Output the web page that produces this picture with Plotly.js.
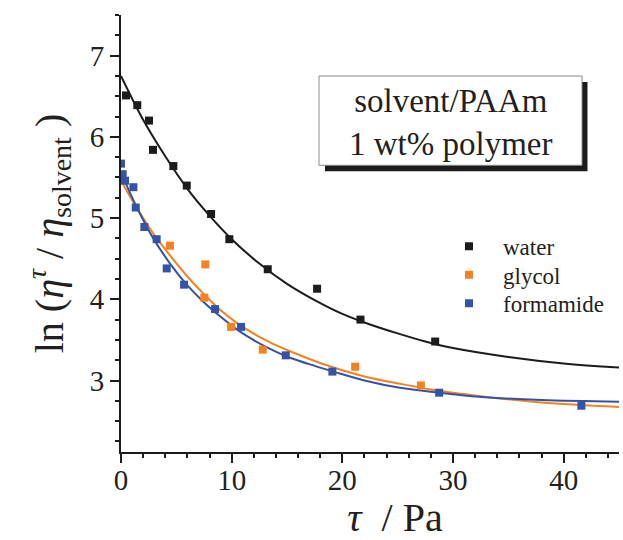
<!DOCTYPE html>
<html>
<head>
<meta charset="utf-8">
<script src="https://cdn.plot.ly/plotly-3.0.1.min.js"></script>
<style>
html,body{margin:0;padding:0;background:#fff;}
#chart{width:623px;height:540px;}
</style>
</head>
<body>
<div id="chart"></div>
<script>
// measured points
var waterX = [0.45, 1.47, 2.53, 2.89, 4.73, 5.94, 8.14, 9.79, 13.26, 17.72, 21.64, 28.39];
var waterY = [6.51, 6.39, 6.20, 5.84, 5.64, 5.40, 5.05, 4.74, 4.37, 4.13, 3.75, 3.48];
var glycolX = [4.43, 7.62, 7.53, 9.95, 12.81, 21.16, 27.1];
var glycolY = [4.66, 4.43, 4.02, 3.66, 3.38, 3.17, 2.94];
var formX = [0.0, 0.15, 0.36, 1.12, 1.33, 2.11, 3.22, 4.13, 5.70, 8.5, 10.85, 14.89, 19.1, 28.75, 41.6];
var formY = [5.67, 5.54, 5.46, 5.38, 5.13, 4.89, 4.74, 4.38, 4.18, 3.88, 3.66, 3.31, 3.11, 2.85, 2.69];

// fitted curves
var waterFitX = [0, 2, 4, 6, 8, 10, 12.5, 15, 17.5, 20, 22.5, 25, 27.5, 30, 35, 40, 45];
var waterFitY = [6.75, 6.21, 5.76, 5.36, 5.03, 4.74, 4.44, 4.19, 3.99, 3.82, 3.69, 3.58, 3.48, 3.40, 3.29, 3.21, 3.16];
var glycolFitX = [0, 1.41, 2.92, 4.43, 5.94, 7.44, 8.95, 10.46, 11.96, 13.47, 15.28, 17.5, 19.2, 22, 25.2, 28, 32.3, 38, 45];
var glycolFitY = [5.46, 5.13, 4.81, 4.54, 4.29, 4.07, 3.87, 3.71, 3.58, 3.47, 3.36, 3.24, 3.16, 3.05, 2.96, 2.89, 2.81, 2.73, 2.675];
var formFitX = [0, 1.12, 2.92, 4.43, 5.94, 7.44, 8.95, 10.46, 11.96, 13.47, 15.28, 17.5, 19.2, 22, 25.2, 28.75, 32.3, 38, 45];
var formFitY = [5.57, 5.22, 4.75, 4.44, 4.18, 3.97, 3.79, 3.63, 3.50, 3.39, 3.28, 3.18, 3.11, 3.00, 2.91, 2.85, 2.80, 2.76, 2.74];

var seriesNames = ['water', 'glycol', 'formamide'];
var colors = ['#1c1c1c', '#f5821f', '#3453a6'];

var xTickVals = [0, 10, 20, 30, 40];
var yTickVals = [3, 4, 5, 6, 7];

var font = 'Liberation Serif';
var ptsX = [waterX, glycolX, formX], ptsY = [waterY, glycolY, formY];
var fitX = [waterFitX, glycolFitX, formFitX], fitY = [waterFitY, glycolFitY, formFitY];
var legendIds = ['legend', 'legend2', 'legend3'];

var traces = [];
for (var i = 0; i < 3; i++) {
  traces.push({
    x: fitX[i], y: fitY[i], type: 'scatter', mode: 'lines',
    line: {color: colors[i], width: 2, shape: 'spline', smoothing: 1},
    showlegend: false, hoverinfo: 'skip'
  });
}
for (var j = 0; j < 3; j++) {
  traces.push({
    x: ptsX[j], y: ptsY[j], type: 'scatter', mode: 'markers', name: seriesNames[j],
    legend: legendIds[j],
    marker: {symbol: 'square', size: 8, color: colors[j]}
  });
}

var axisCommon = {
  showline: true, linecolor: '#1c1c1c', linewidth: 2,
  ticks: 'outside', tickcolor: '#1c1c1c', tickwidth: 2, ticklen: 9,
  showgrid: false, zeroline: false,
  tickfont: {family: font, size: 29, color: '#231f20'}
};

function legendAt(yp) {
  return {
    x: 0.6305, y: yp, xanchor: 'left', yanchor: 'top',
    bgcolor: 'rgba(0,0,0,0)', borderwidth: 0, itemwidth: 58,
    font: {family: font, size: 23, color: '#231f20'}
  };
}

var layout = {
  width: 623, height: 540,
  margin: {l: 121, r: 4, t: 15, b: 88},
  paper_bgcolor: '#fff', plot_bgcolor: '#fff',
  font: {family: font, color: '#231f20'},
  xaxis: Object.assign({}, axisCommon, {
    range: [0, 45], tickvals: xTickVals, ticktext: xTickVals.map(String),
    ticklabelstandoff: -8,
    minor: {dtick: 2, tick0: 0, ticks: 'outside', ticklen: 4, tickwidth: 2, tickcolor: '#1c1c1c', showgrid: false},
    title: {text: '&nbsp;&nbsp;&nbsp;&nbsp;&nbsp;<i>τ</i>&nbsp;&nbsp;/ Pa', font: {family: font, size: 40, color: '#231f20'}, standoff: 14}
  }),
  yaxis: Object.assign({}, axisCommon, {
    range: [2.12, 7.5], tickvals: yTickVals, ticktext: yTickVals.map(String),
    minor: {dtick: 0.25, tick0: 0, ticks: 'outside', ticklen: 4, tickwidth: 2, tickcolor: '#1c1c1c', showgrid: false},
    title: {text: 'ln (<i>η</i><sup><i>τ</i></sup> / <i>η</i><sub>solvent</sub> )', font: {family: font, size: 40, color: '#231f20'}, standoff: 14}
  }),
  legend: legendAt(0.5199),
  legend2: legendAt(0.4547),
  legend3: legendAt(0.3895),
  shapes: [
    {type: 'rect', xref: 'paper', yref: 'paper', x0: 0.4096, x1: 0.9367, y0: 0.6423, y1: 0.8467,
     fillcolor: '#1c1c1c', line: {width: 0}, layer: 'above'},
    {type: 'rect', xref: 'paper', yref: 'paper', x0: 0.3976, x1: 0.9257, y0: 0.6561, y1: 0.8604,
     fillcolor: '#ffffff', line: {color: '#8a8a8a', width: 1}, layer: 'above'}
  ],
  annotations: [
    {xref: 'paper', yref: 'paper', x: 0.6617, y: 0.755, xanchor: 'center', yanchor: 'middle',
     text: 'solvent/PAAm<br>1 wt% polymer', showarrow: false, align: 'center',
     font: {family: font, size: 33, color: '#231f20'}}
  ]
};

Plotly.newPlot('chart', traces, layout, {staticPlot: true, displayModeBar: false});
</script>
</body>
</html>
